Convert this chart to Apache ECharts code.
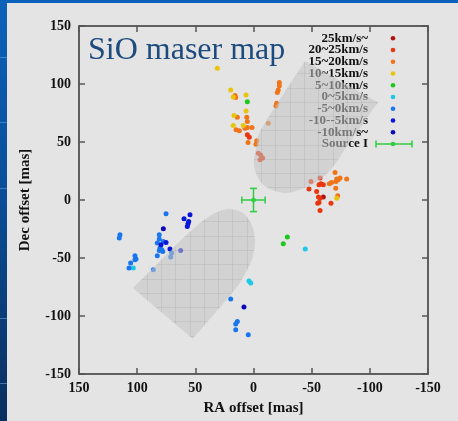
<!DOCTYPE html>
<html>
<head>
<meta charset="utf-8">
<script src="https://cdn.jsdelivr.net/npm/echarts@6/dist/echarts.min.js"></script>
<style>
  html, body { margin: 0; padding: 0; width: 458px; height: 421px; overflow: hidden; }
  body { position: relative; background: linear-gradient(to bottom, #0b62bb 0%, #0a4e98 45%, #0a2f5e 100%); }
  #panel { position: absolute; left: 7px; top: 3px; right: 0; bottom: 0; background: #e4e4e4; }
  .rule { position: absolute; left: 0; width: 7px; height: 1px; background: rgba(110, 165, 230, 0.55); }
  #chart { position: absolute; left: 0; top: 0; width: 458px; height: 421px; }
</style>
</head>
<body>
<div class="rule" style="top:57px"></div>
<div class="rule" style="top:122px"></div>
<div class="rule" style="top:188px"></div>
<div class="rule" style="top:318px"></div>
<div class="rule" style="top:383px"></div>
<div id="panel"></div>
<div id="chart"></div>
<script>
// Velocity bins (legend order) and their maser spots, [RA offset, Dec offset] in mas
const velocityBins = ['25km/s~', '20~25km/s', '15~20km/s', '10~15km/s', '5~10km/s',
                      '0~5km/s', '-5~0km/s', '-10--5km/s', '-10km/s~'];

const spotsOver25 = [[-60.0, 2.5]];
const spots20to25 = [
  [5.3, 56.2], [3.6, 54.2], [-4.1, 40.4], [-6.2, 38.9], [-5.6, 34.6], [-7.9, 36.1],
  [-49.4, 15.9], [-57.2, 18.9], [-58.0, 14.0], [-56.3, 13.1], [-60.0, 13.1], [-47.7, 9.4],
  [-54.3, 7.3], [-55.8, 2.5], [-57.2, 1.6], [-55.2, -2.7], [-56.3, -2.2], [-66.6, -2.7], [-57.2, -9.0]
];
const spots15to20 = [
  [15.9, 90.0], [15.3, 88.3], [5.8, 71.4], [5.3, 67.6], [13.9, 71.4], [15.0, 60.5], [12.2, 59.6],
  [7.3, 61.9], [5.3, 62.4], [1.3, 62.4], [4.7, 49.5], [-2.8, 51.0], [-2.1, 48.1], [-12.7, 66.2],
  [-22.2, 101.2], [-22.2, 98.4], [-21.3, 94.9], [-20.5, 92.6], [-19.9, 83.5], [-19.3, 81.1],
  [-65.2, 14.0], [-67.2, 15.1], [-70.1, 23.7], [-71.5, 18.0], [-72.9, 17.4], [-74.4, 18.9],
  [-70.9, 15.9], [-80.1, 18.0], [-70.7, 10.2], [-72.4, 3.6]
];
const spots10to15 = [
  [31.1, 113.6], [19.6, 94.9], [17.4, 88.9], [6.4, 90.6], [6.4, 76.8], [16.8, 72.8],
  [17.4, 64.2], [8.8, 64.2], [-71.5, 1.6]
];
const spots5to10 = [[5.3, 84.8], [-29.1, -32.0], [-25.6, -37.7]];
const spots0to5 = [[-44.5, -42.3], [3.9, -69.9], [2.4, -71.6], [103.3, -58.7]];
const spotsM5to0 = [
  [75.2, -11.9], [114.8, -30.0], [115.4, -32.8], [81.0, -30.0], [81.0, -33.7], [82.7, -37.1],
  [77.5, -35.7], [80.4, -41.4], [78.9, -42.9], [81.0, -43.5], [78.0, -44.4], [70.3, -45.7],
  [71.2, -49.2], [82.7, -48.1], [101.9, -48.1], [101.0, -50.9], [101.9, -51.5], [105.6, -54.4],
  [107.0, -58.7], [86.1, -60.1], [19.6, -85.4], [13.9, -104.7], [15.3, -106.9], [15.3, -111.8],
  [4.5, -116.1]
];
const spotsM10toM5 = [
  [59.7, -16.2], [54.6, -12.7], [55.7, -18.5], [56.3, -20.5], [56.9, -22.8], [79.5, -38.6],
  [75.2, -36.6], [71.8, -42.3], [62.6, -43.5]
];
const spotsUnderM10 = [[77.5, -24.8], [8.2, -92.2]];

const binSpots = [spotsOver25, spots20to25, spots15to20, spots10to15, spots5to10,
                  spots0to5, spotsM5to0, spotsM10toM5, spotsUnderM10];

// Source I position with RA / Dec uncertainties: [ra, dec, raErr, decErr]
const sourceI = [[0, 0, 10, 10]];

// Outlines of the two shaded regions (mas), from one cut corner round the rounded end to the other
const northEastOutline = [
  [-106.9, 84.2], [-91.5, 62.2], [-80.1, 46.1], [-68.6, 28.9], [-57.2, 17.4], [-40.0, 8.8],
  [-25.4, 6.2], [-10.7, 11.4], [-3.0, 20.8], [-0.4, 32.9], [-2.6, 46.7], [-7.3, 62.2], [-44.3, 119.9]
];
const southWestOutline = [
  [103.8, -75.9], [77.8, -50.2], [58.9, -31.3], [41.7, -16.6], [28.8, -9.3], [18.5, -8.0],
  [8.2, -11.9], [1.3, -22.2], [-1.3, -35.6], [0.9, -49.8], [7.3, -63.6], [16.8, -78.2], [52.3, -119.6]
];
// Hatch grid inside each region: origin (mas) and spacing
const regionGrids = [
  { x0: -6.5, y0: 10.8, step: 12.3 },
  { x0: 5.8, y0: -18.5, step: 12.3 }
];
const regionOutlines = [northEastOutline, southWestOutline];

// ---- styles ----
const binColors = ['#b01212', '#e8360e', '#f07418', '#e8c40c', '#1ec81e',
                   '#1cc8e6', '#1a76ee', '#0a16d8', '#0808b8'];
const sourceColor = '#30cc40';
const serif = '"Liberation Serif", "Times New Roman", serif';

function catmullRom(pts, steps) {
  const out = [];
  const n = pts.length;
  for (let i = 0; i < n - 1; i++) {
    const p0 = pts[Math.max(i - 1, 0)], p1 = pts[i], p2 = pts[i + 1], p3 = pts[Math.min(i + 2, n - 1)];
    for (let s = 0; s < steps; s++) {
      const t = s / steps, t2 = t * t, t3 = t2 * t;
      out.push([0, 1].map(k => 0.5 * (2 * p1[k] + (-p0[k] + p2[k]) * t +
        (2 * p0[k] - 5 * p1[k] + 4 * p2[k] - p3[k]) * t2 +
        (-p0[k] + 3 * p1[k] - 3 * p2[k] + p3[k]) * t3)));
    }
  }
  out.push(pts[n - 1]);
  return out;
}

// intersections of the line (axis coordinate == v) with a closed polygon -> inside spans
function spansOnLine(poly, axis, v) {
  const o = 1 - axis, hits = [];
  for (let i = 0; i < poly.length; i++) {
    const p = poly[i], q = poly[(i + 1) % poly.length];
    if ((p[axis] <= v && q[axis] > v) || (q[axis] <= v && p[axis] > v)) {
      const t = (v - p[axis]) / (q[axis] - p[axis]);
      hits.push(p[o] + t * (q[o] - p[o]));
    }
  }
  hits.sort((a, b) => a - b);
  const spans = [];
  for (let i = 0; i + 1 < hits.length; i += 2) spans.push([hits[i], hits[i + 1]]);
  return spans;
}

function renderRegion(params, api) {
  const idx = params.dataIndex;
  const outline = regionOutlines[idx].map(p => api.coord(p));
  const poly = catmullRom(outline, 10);
  const g = regionGrids[idx];
  const children = [{
    type: 'polygon', shape: { points: poly },
    style: { fill: 'rgba(196,196,196,0.56)' }
  }];
  const lineStyle = { stroke: 'rgba(110,110,110,0.14)', lineWidth: 1 };
  for (let k = -30; k <= 30; k++) {
    const vx = g.x0 + k * g.step;
    if (Math.abs(vx) < 150) {
      const px = Math.round(api.coord([vx, 0])[0]) + 0.5;
      spansOnLine(poly, 0, px).forEach(s => children.push({
        type: 'line', shape: { x1: px, y1: s[0], x2: px, y2: s[1] }, style: lineStyle
      }));
    }
    const vy = g.y0 + k * g.step;
    if (Math.abs(vy) < 150) {
      const py = Math.round(api.coord([0, vy])[1]) + 0.5;
      spansOnLine(poly, 1, py).forEach(s => children.push({
        type: 'line', shape: { x1: s[0], y1: py, x2: s[1], y2: py }, style: lineStyle
      }));
    }
  }
  return { type: 'group', children };
}

function renderErrorBars(params, api) {
  const x = api.value(0), y = api.value(1), ex = api.value(2), ey = api.value(3);
  const c = api.coord([x, y]);
  const l = api.coord([x + ex, y]), r = api.coord([x - ex, y]);
  const t = api.coord([x, y + ey]), b = api.coord([x, y - ey]);
  const cap = 3.5;
  const st = { stroke: sourceColor, lineWidth: 1.5 };
  return {
    type: 'group', children: [
      { type: 'line', shape: { x1: l[0], y1: c[1], x2: r[0], y2: c[1] }, style: st },
      { type: 'line', shape: { x1: l[0], y1: c[1] - cap, x2: l[0], y2: c[1] + cap }, style: st },
      { type: 'line', shape: { x1: r[0], y1: c[1] - cap, x2: r[0], y2: c[1] + cap }, style: st },
      { type: 'line', shape: { x1: c[0], y1: t[1], x2: c[0], y2: b[1] }, style: st },
      { type: 'line', shape: { x1: c[0] - cap, y1: t[1], x2: c[0] + cap, y2: t[1] }, style: st },
      { type: 'line', shape: { x1: c[0] - cap, y1: b[1], x2: c[0] + cap, y2: b[1] }, style: st }
    ]
  };
}

// ---- legend block (text right-aligned, dot column to the right) ----
const legendTextRight = 368, legendDotX = 393, legendTop = 38.3, legendStep = 11.75;
const legendFont = 'bold 13px ' + serif;
const graphicElements = [{
  type: 'text', x: 88, y: 51, z: 1,
  style: { text: 'SiO maser map', font: '32px ' + serif, fill: '#1d4b7e', verticalAlign: 'middle' }
}];
velocityBins.forEach((name, i) => {
  const y = legendTop + i * legendStep;
  graphicElements.push({
    type: 'text', x: legendTextRight, y: y, z: 1,
    style: { text: name, font: legendFont, fill: '#111', align: 'right', verticalAlign: 'middle' }
  });
  graphicElements.push({
    type: 'circle', z: 1, shape: { cx: legendDotX, cy: y, r: 2.3 }, style: { fill: binColors[i] }
  });
});
(function () {
  const y = legendTop + velocityBins.length * legendStep;
  const st = { stroke: sourceColor, lineWidth: 1.5 };
  graphicElements.push(
    { type: 'text', x: legendTextRight, y: y, z: 1,
      style: { text: 'Source I', font: legendFont, fill: '#111', align: 'right', verticalAlign: 'middle' } },
    { type: 'line', z: 1, shape: { x1: 376, y1: y, x2: 412, y2: y }, style: st },
    { type: 'line', z: 1, shape: { x1: 376, y1: y - 3.5, x2: 376, y2: y + 3.5 }, style: st },
    { type: 'line', z: 1, shape: { x1: 412, y1: y - 3.5, x2: 412, y2: y + 3.5 }, style: st },
    { type: 'circle', z: 1, shape: { cx: legendDotX, cy: y, r: 2.3 }, style: { fill: sourceColor } }
  );
})();

// ---- axes ----
const labelStyle = { fontFamily: serif, fontWeight: 'bold', fontSize: 14, color: '#111' };
const frameLine = { show: true, onZero: false, lineStyle: { color: '#333', width: 1.5 } };
const innerTick = { show: true, inside: true, length: 6, lineStyle: { color: '#555', width: 1.5 } };
function valueAxis(extra) {
  return Object.assign({
    type: 'value', min: -150, max: 150, interval: 50,
    axisLine: frameLine, axisTick: innerTick, splitLine: { show: false }
  }, extra);
}

const series = binSpots.map((pts, i) => ({
  name: velocityBins[i], type: 'scatter', data: pts, symbol: 'circle', symbolSize: 5,
  itemStyle: { color: binColors[i], opacity: 1 }, z: 3, silent: true
}));
series.push({
  name: 'Source I', type: 'custom', data: sourceI, renderItem: renderErrorBars, z: 3, silent: true
});
series.push({
  name: 'Source I position', type: 'scatter', data: sourceI.map(s => [s[0], s[1]]),
  symbolSize: 5, itemStyle: { color: sourceColor }, z: 4, silent: true
});
series.push({
  name: 'regions', type: 'custom', data: regionOutlines.map(() => [0, 0]),
  renderItem: renderRegion, z: 10, silent: true
});

const chart = echarts.init(document.getElementById('chart'), null, { renderer: 'canvas' });
chart.setOption({
  backgroundColor: 'transparent',
  animation: false,
  grid: { left: 79, top: 26, width: 349, height: 348, show: false },
  xAxis: [
    valueAxis({
      position: 'bottom', inverse: true,
      name: 'RA offset [mas]', nameLocation: 'middle', nameGap: 27,
      nameTextStyle: { fontFamily: serif, fontWeight: 'bold', fontSize: 15, color: '#111' },
      axisLabel: Object.assign({ margin: 7 }, labelStyle)
    }),
    valueAxis({ position: 'top', inverse: true, axisLabel: { show: false } })
  ],
  yAxis: [
    valueAxis({
      position: 'left',
      name: 'Dec offset [mas]', nameLocation: 'middle', nameGap: 46, nameRotate: 90,
      nameTextStyle: { fontFamily: serif, fontWeight: 'bold', fontSize: 15, color: '#111' },
      axisLabel: Object.assign({ margin: 8 }, labelStyle)
    }),
    valueAxis({ position: 'right', axisLabel: { show: false } })
  ],
  graphic: { elements: graphicElements },
  series: series
});
</script>
</body>
</html>
